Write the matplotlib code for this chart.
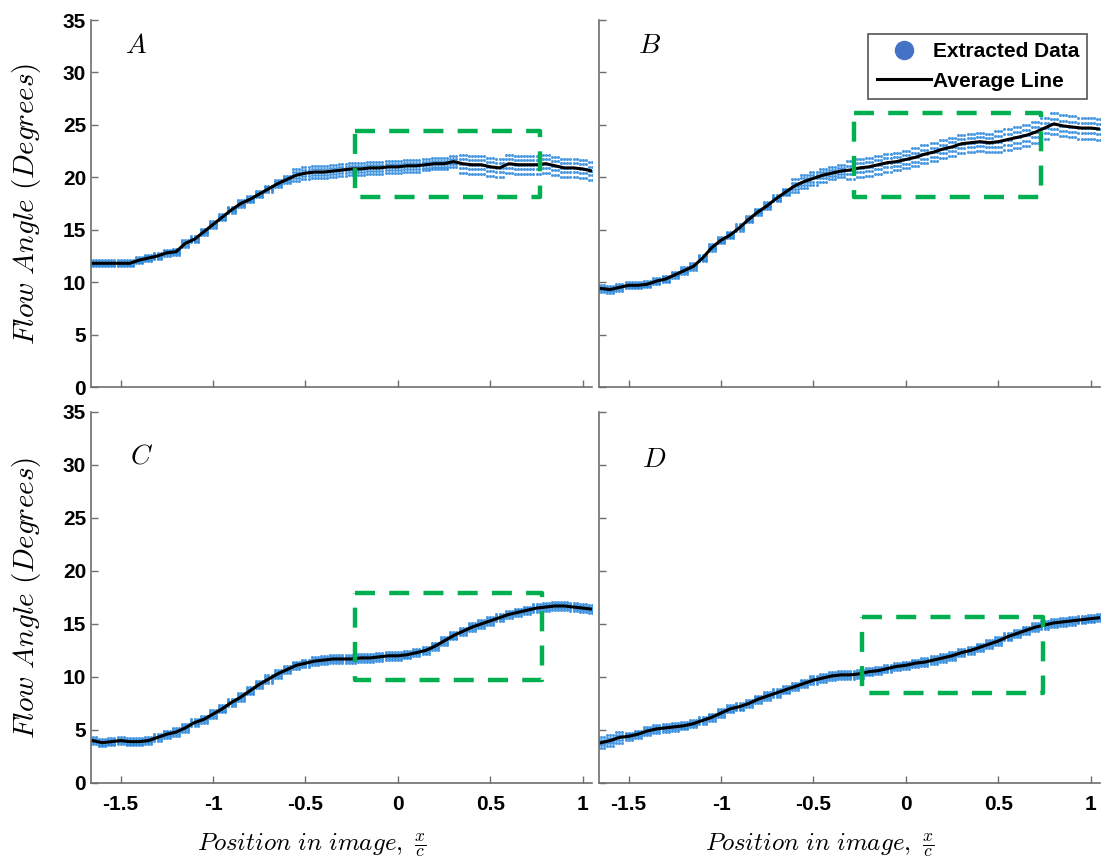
import numpy as np
import matplotlib.pyplot as plt
from matplotlib.lines import Line2D

plt.rcParams['mathtext.fontset'] = 'cm'
plt.rcParams['font.family'] = ['Liberation Sans', 'DejaVu Sans']

# x positions of the read-off average line (same for all four panels)
X_POS = np.round(np.arange(-1.65, 1.051, 0.05), 2)

ANGLE_A = [11.8, 11.8, 11.8, 11.8, 11.8, 12.1, 12.3, 12.5, 12.8, 12.9,
           13.7, 14.1, 14.8, 15.5, 16.2, 16.9, 17.5, 17.9, 18.4, 18.9,
           19.4, 19.8, 20.2, 20.4, 20.5, 20.5, 20.6, 20.7, 20.8, 20.8,
           20.9, 20.9, 21.0, 21.0, 21.1, 21.1, 21.2, 21.3, 21.3, 21.5,
           21.3, 21.2, 21.2, 21.0, 20.9, 21.3, 21.2, 21.2, 21.2, 21.3,
           21.1, 20.9, 20.9, 20.8, 20.6]
ANGLE_B = [9.4, 9.3, 9.5, 9.7, 9.7, 9.8, 10.1, 10.3, 10.7, 11.1,
           11.5, 12.3, 13.3, 14.0, 14.5, 15.2, 16.0, 16.7, 17.3, 18.0,
           18.6, 19.2, 19.6, 19.9, 20.2, 20.4, 20.6, 20.7, 20.9, 21.0,
           21.2, 21.4, 21.5, 21.7, 21.9, 22.2, 22.4, 22.7, 22.9, 23.2,
           23.3, 23.4, 23.3, 23.4, 23.6, 23.8, 24.0, 24.3, 24.7, 25.1,
           24.9, 24.8, 24.7, 24.7, 24.6]
ANGLE_C = [4.0, 3.8, 3.9, 4.0, 3.9, 3.9, 4.0, 4.3, 4.6, 4.8,
           5.2, 5.7, 6.0, 6.5, 7.0, 7.6, 8.1, 8.7, 9.3, 9.8,
           10.3, 10.7, 11.1, 11.3, 11.5, 11.6, 11.7, 11.7, 11.7, 11.8,
           11.8, 11.9, 12.0, 12.0, 12.1, 12.3, 12.5, 12.9, 13.4, 13.9,
           14.3, 14.7, 15.0, 15.3, 15.6, 15.9, 16.1, 16.3, 16.5, 16.6,
           16.7, 16.7, 16.6, 16.5, 16.4]
ANGLE_D = [3.8, 4.0, 4.3, 4.4, 4.6, 4.9, 5.1, 5.2, 5.3, 5.4,
           5.6, 5.9, 6.2, 6.6, 7.0, 7.2, 7.5, 7.9, 8.2, 8.5,
           8.8, 9.1, 9.4, 9.7, 9.9, 10.1, 10.2, 10.2, 10.3, 10.5,
           10.6, 10.8, 11.0, 11.1, 11.3, 11.4, 11.6, 11.8, 12.0, 12.3,
           12.5, 12.8, 13.1, 13.4, 13.8, 14.1, 14.4, 14.7, 14.9, 15.1,
           15.2, 15.3, 15.4, 15.5, 15.6]

# half-width of the extracted-data scatter, step-wise: (start x, spread)
SPREAD_A = [(-1.7, 0.3), (-0.55, 0.55), (0.35, 0.85)]
SPREAD_B = [(-1.7, 0.3), (-0.6, 0.6), (-0.3, 0.85), (0.5, 1.0)]
SPREAD_C = [(-1.7, 0.35)]
SPREAD_D = [(-1.7, 0.5), (-1.5, 0.35)]

# dashed highlight boxes: (x0, x1, y0, y1)
BOX_A = (-0.23, 0.77, 18.1, 24.4)
BOX_B = (-0.28, 0.73, 18.1, 26.1)
BOX_C = (-0.23, 0.78, 9.7, 17.9)
BOX_D = (-0.24, 0.74, 8.5, 15.7)

PANELS = [
    ('A', ANGLE_A, SPREAD_A, BOX_A),
    ('B', ANGLE_B, SPREAD_B, BOX_B),
    ('C', ANGLE_C, SPREAD_C, BOX_C),
    ('D', ANGLE_D, SPREAD_D, BOX_D),
]

DOT_COLOR = '#2a88dc'
BOX_COLOR = '#00b050'
SPINE_COLOR = '#6e6e6e'

fig = plt.figure(figsize=(11.02, 8.67), dpi=100)
positions = [
    [0.0826, 0.5536, 0.4546, 0.4233],
    [0.5436, 0.5536, 0.4546, 0.4233],
    [0.0826, 0.0969, 0.4546, 0.4279],
    [0.5436, 0.0969, 0.4546, 0.4279],
]
label_pos = [(0.09, 0.93), (0.10, 0.93), (0.10, 0.88), (0.11, 0.87)]

for i, (name, angle, spread, box) in enumerate(PANELS):
    ax = fig.add_axes(positions[i])
    angle = np.array(angle)

    starts = np.array([s for s, _ in spread])
    widths = np.array([w for _, w in spread])
    half = widths[np.searchsorted(starts, X_POS, side='right') - 1]

    # extracted data: several rows of dots around the average line
    for dx in (-0.0167, 0.0, 0.0167):
        for frac in (-1.0, -0.5, 0.0, 0.5, 1.0):
            ax.plot(X_POS + dx, angle + frac * half, 'o', ms=2.2,
                    color=DOT_COLOR, mec='none', alpha=0.85)
    ax.plot(X_POS, angle, color='black', lw=2.2)

    x0, x1, y0, y1 = box
    ax.plot([x0, x1, x1, x0, x0], [y1, y1, y0, y0, y1], color=BOX_COLOR,
            lw=3.2, dashes=(4.5, 3.2))

    ax.set_xlim(-1.66, 1.05)
    ax.set_ylim(0, 35)
    ax.set_xticks([-1.5, -1, -0.5, 0, 0.5, 1])
    ax.set_yticks(range(0, 36, 5))
    ax.tick_params(direction='in', length=5, width=1, color=SPINE_COLOR,
                   labelsize=15)
    ax.tick_params(axis='x', pad=9)
    for s in ('top', 'right'):
        ax.spines[s].set_visible(False)
    for s in ('left', 'bottom'):
        ax.spines[s].set_color(SPINE_COLOR)
        ax.spines[s].set_linewidth(1.2)

    if i % 2 == 0:
        ax.set_yticklabels(['0', '5', '10', '15', '20', '25', '30', '35'],
                           fontweight='bold')
        ax.set_ylabel(r'$Flow\ Angle\ (Degrees)$', fontsize=21)
        ax.yaxis.set_label_coords(-0.095, 0.5)
    else:
        ax.set_yticklabels([])
    if i >= 2:
        ax.set_xticklabels(['-1.5', '-1', '-0.5', '0', '0.5', '1'],
                           fontweight='bold')
        ax.set_xlabel(r'$Position\ in\ image,\ \frac{x}{c}$', fontsize=18)
        ax.xaxis.set_label_coords(0.44, -0.13)
    else:
        ax.set_xticklabels([])

    ax.text(label_pos[i][0], label_pos[i][1], '$' + name + '$',
            transform=ax.transAxes, fontsize=20, ha='center', va='center')

    if name == 'B':
        handles = [
            Line2D([0], [0], marker='o', ls='none', color='#4472c4',
                   markersize=13, label='Extracted Data'),
            Line2D([0], [0], color='black', lw=2.2, label='Average Line'),
        ]
        leg = ax.legend(handles=handles, loc='upper right',
                        bbox_to_anchor=(0.975, 0.962), fancybox=False,
                        edgecolor='#555555', framealpha=1,
                        prop={'weight': 'bold', 'size': 15},
                        handlelength=2.6, handletextpad=0.1,
                        borderpad=0.4, labelspacing=0.5, borderaxespad=0)
        leg.get_frame().set_linewidth(1.2)

fig.savefig('out.png', dpi=100)
